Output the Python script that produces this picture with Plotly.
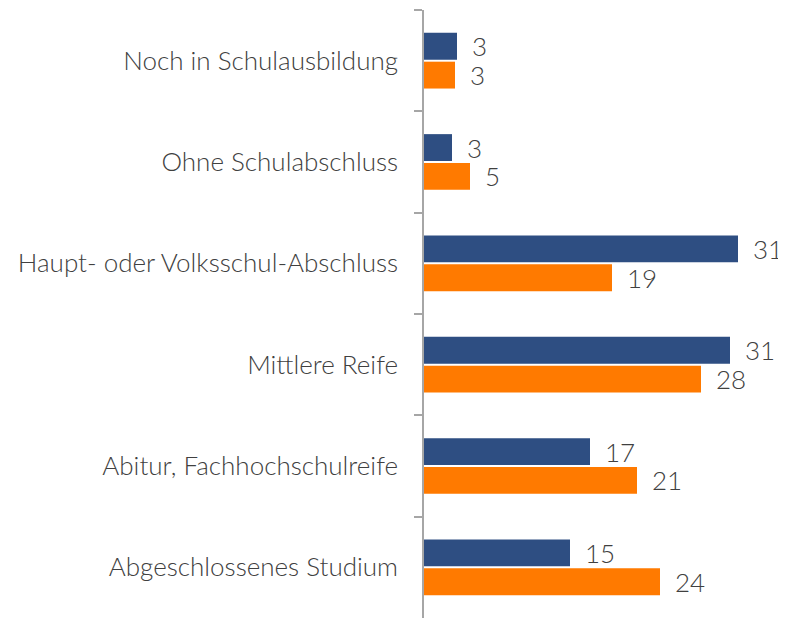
import plotly.graph_objects as go

categories = ["Noch in Schulausbildung", "Ohne Schulabschluss", "Haupt- oder Volksschul-Abschluss",
              "Mittlere Reife", "Abitur, Fachhochschulreife", "Abgeschlossenes Studium"]
series_a = [3.3, 2.8, 31.4, 30.6, 16.6, 14.6]
series_b = [3.1, 4.6, 18.8, 27.7, 21.3, 23.6]

FONT = "Lato Light, Lato"
text_font = dict(family=FONT, size=26, color="#404040", weight=300)

fig = go.Figure()
for vals, col in [(series_a, "#2E4E82"), (series_b, "#FF7A00")]:
    fig.add_trace(go.Bar(y=categories, x=vals, orientation="h", marker=dict(color=col, line=dict(width=0)),
                         texttemplate="\u00a0\u2009\u200a%{x:.0f}", textposition="outside", constraintext="none",
                         cliponaxis=False, outsidetextfont=text_font, showlegend=False))

# page body has an 8px margin; compensate so the plot lands where the reference has it
fig.update_layout(
    width=778, height=610,
    margin=dict(l=416, r=0, t=2, b=0),
    barmode="group", bargap=0.43, bargroupgap=0.07,
    paper_bgcolor="white", plot_bgcolor="white",
    font=dict(family=FONT, size=26, color="#404040", weight=300),
)
fig.update_xaxes(range=[0, 36.2], visible=False)
fig.update_yaxes(autorange="reversed", showline=True, linecolor="#A6A6A6", linewidth=1.5,
                 ticks="outside", tickson="boundaries", ticklen=8, tickcolor="#A6A6A6", tickwidth=1.5,
                 ticklabelstandoff=19, showgrid=False,
                 tickfont=dict(family=FONT, size=26, color="#404040", weight=300))

fig.write_html("out.html")
